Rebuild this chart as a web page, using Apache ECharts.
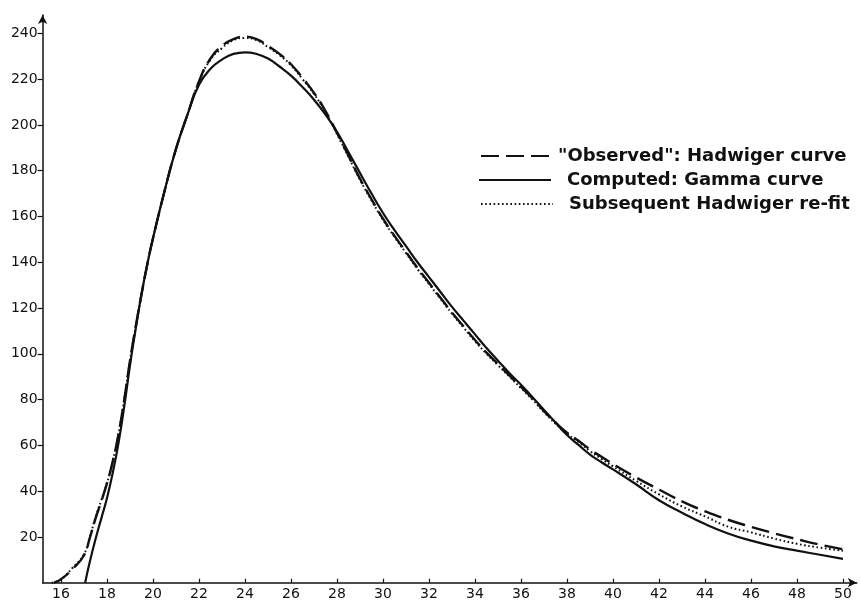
<!DOCTYPE html>
<html>
<head>
<meta charset="utf-8">
<script src="https://cdn.jsdelivr.net/npm/echarts@6/dist/echarts.min.js"></script>
<style>
html,body{margin:0;padding:0;background:#fff;}
#chart{width:861px;height:602px;}
</style>
</head>
<body>
<div id="chart"></div>
<script>
// Tick labels
const xTicks = [16,18,20,22,24,26,28,30,32,34,36,38,40,42,44,46,48,50];
const yTicks = [20,40,60,80,100,120,140,160,180,200,220,240];

// Series names
const seriesNames = ['"Observed": Hadwiger curve', 'Computed: Gamma curve', 'Subsequent Hadwiger re-fit'];

// "Observed": Hadwiger curve (dashed)
const observedAges = [15.7,16,16.5,17,17.25,17.5,17.75,18,18.25,18.5,18.75,19,19.25,19.5,19.75,20,20.5,21,21.5,22,22.5,23,23.5,24,24.5,25,25.5,26,26.5,27,27.5,28,28.5,29,29.5,30,30.5,31,31.5,32,32.5,33,33.5,34,34.5,35,35.5,36,36.5,37,37.5,38,38.5,39,39.5,40,41,42,43,44,45,46,47,48,49,50];
const observed = [0,1.5,6,12,19.5,28,35.5,43.5,53,65,80,97,112,126,139,150.5,171,189.5,204.5,219,229,234.5,237.5,238.5,237.5,234.5,231,226.5,220.5,214,206,196.5,186.5,176.5,167.5,159,151.5,144.5,137.5,131,124.5,118,112,106,100.5,95.5,90.5,85.5,80.5,75,70,65.5,62,58.2,55,51.8,46,40.7,35.5,31.2,27.5,24.4,21.6,19,16.6,14.6];

// Computed: Gamma curve (solid)
const gammaAges = [17.05,17.25,17.5,17.75,18,18.25,18.5,18.75,19,19.25,19.5,19.75,20,20.5,21,21.5,22,22.5,23,23.5,24,24.5,25,25.5,26,26.5,27,27.5,28,28.5,29,29.5,30,30.5,31,31.5,32,32.5,33,33.5,34,34.5,35,35.5,36,36.5,37,37.5,38,38.5,39,39.5,40,41,42,43,44,45,46,47,48,49,50];
const gamma = [0,9,19,28,37,48,61,77,95,111,126,139,150.5,171,189.5,204.5,217.5,224.5,228.5,231,231.7,231,229,225.5,221.5,216.5,211,204.5,197,188,179,170,161.5,154,147,140,133.5,127,120.5,114.5,108.5,102.5,97,91.5,86.5,81,75.5,70,64.5,60.2,56,52.6,49.5,43,36,30.6,25.6,21.5,18.4,15.9,14,12.2,10.4];

// Subsequent Hadwiger re-fit (dotted)
const refitAges = [15.6,16,16.5,17,17.25,17.5,17.75,18,18.25,18.5,18.75,19,19.25,19.5,19.75,20,20.5,21,21.5,22,22.5,23,23.5,24,24.5,25,25.5,26,26.5,27,27.5,28,28.5,29,29.5,30,30.5,31,31.5,32,32.5,33,33.5,34,34.5,35,35.5,36,36.5,37,37.5,38,38.5,39,39.5,40,41,42,43,44,45,46,47,48,49,50];
const refit = [0,1.5,6.5,12.5,20,28.5,36,43.5,53,65,80,97,112,126,139,150.5,171,189.5,204.5,219,228.5,233.5,237,238,237,234,230.5,226,220,213.5,205.5,196,186,176,167,158.5,151,144,137,130.5,124,117.5,111.5,105.5,100,95,90,85,80,74.5,69.5,65,61.5,57.5,54,50.8,44.5,38.6,33.3,29,24.5,22,19.3,17,15.3,14];

const INK = '#111';
const pairs = (xs, ys) => xs.map((x, i) => [x, ys[i]]);

const chart = echarts.init(document.getElementById('chart'), null, {renderer: 'canvas'});

const legendText = {fontFamily: 'DejaVu Sans', fontWeight: 'bold', fontSize: 18, color: INK};
function makeLegend(name, left, top, pad) {
  return {
    data: [name], left: left, top: top, padding: 0,
    orient: 'vertical', itemWidth: 72, itemHeight: 14,
    itemStyle: {opacity: 0},
    selectedMode: false,
    textStyle: Object.assign({}, legendText, {padding: [0, 0, 0, pad]})
  };
}

chart.setOption({
  animation: false,
  backgroundColor: '#fff',
  grid: {left: 42.6, right: 4.2, top: 15, bottom: 19.3, containLabel: false},
  legend: [
    makeLegend(seriesNames[0], 480, 147, 0),
    makeLegend(seriesNames[1], 478, 171, 11),
    makeLegend(seriesNames[2], 480, 195, 11)
  ],
  xAxis: {
    type: 'value',
    min: 15.2,
    max: 50.6,
    axisLine: {show: true, onZero: false, lineStyle: {color: INK, width: 1.5}, symbol: ['none','arrow'], symbolSize: [7,9]},
    axisTick: {show: true, inside: true, length: 4, customValues: xTicks, lineStyle: {color: INK, width: 1.2}},
    axisLabel: {customValues: xTicks, margin: 5, fontFamily: 'DejaVu Sans', fontSize: 14, color: INK},
    splitLine: {show: false}
  },
  yAxis: {
    type: 'value',
    min: 0,
    max: 248,
    axisLine: {show: true, onZero: false, lineStyle: {color: INK, width: 1.5}, symbol: ['none','arrow'], symbolSize: [7,9]},
    axisTick: {show: true, inside: false, length: 5, customValues: yTicks, lineStyle: {color: INK, width: 1.2}},
    axisLabel: {customValues: yTicks, margin: 5, fontFamily: 'DejaVu Sans', fontSize: 14, color: INK},
    splitLine: {show: false}
  },
  series: [
    {
      name: seriesNames[0], type: 'line', data: pairs(observedAges, observed),
      showSymbol: false, symbol: 'none', smooth: 0.5,
      lineStyle: {color: INK, width: 2.4, type: [18, 7]}, itemStyle: {color: INK}, z: 3
    },
    {
      name: seriesNames[1], type: 'line', data: pairs(gammaAges, gamma),
      showSymbol: false, symbol: 'none', smooth: 0.5,
      lineStyle: {color: INK, width: 2.2, type: 'solid'}, itemStyle: {color: INK}, z: 2
    },
    {
      name: seriesNames[2], type: 'line', data: pairs(refitAges, refit),
      showSymbol: false, symbol: 'none', smooth: 0.5,
      lineStyle: {color: INK, width: 2, type: [1.6, 2.6]}, itemStyle: {color: INK}, z: 4
    }
  ]
});
</script>
</body>
</html>
